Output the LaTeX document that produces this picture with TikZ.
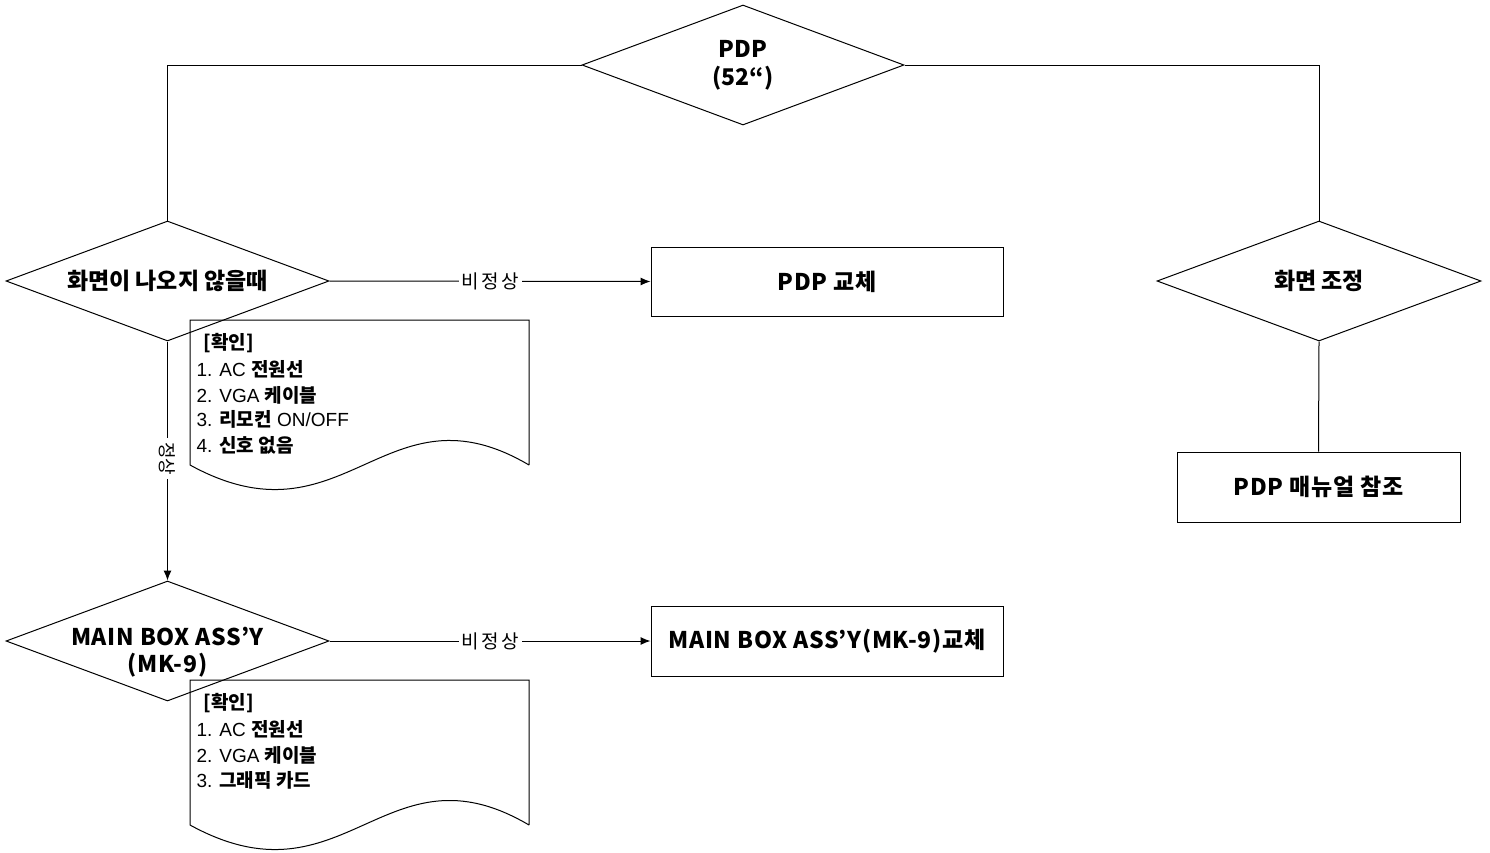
\documentclass[tikz,border=0pt]{standalone}
\usepackage{fontspec}
\setmainfont{Liberation Sans}
\newfontfamily\kr{Noto Sans CJK KR}
\newfontfamily\krsp{Noto Sans CJK KR}[LetterSpace=12]
\newfontfamily\krbox{Noto Sans CJK KR}[LetterSpace=3]
\usetikzlibrary{shapes.geometric,arrows.meta}
\newcommand{\kb}[1]{{\kr\bfseries #1}}
\tikzset{
  every path/.style={line width=1pt},
  dia/.style={diamond, aspect=2.7, draw, line width=1pt, inner sep=0pt, minimum width=323pt, minimum height=120pt,
    font=\kr\bfseries\fontsize{23}{28}\selectfont, align=center},
  dtext/.style={inner sep=0pt, font=\krbox\bfseries\fontsize{23}{27}\selectfont, align=center},
  procbox/.style={rectangle, draw, line width=1pt, inner sep=0pt, minimum width=352pt, minimum height=69pt,
    font=\krbox\bfseries\fontsize{23}{26}\selectfont},
  lbl/.style={fill=white, inner sep=3pt, font=\krsp\fontsize{19}{20}\selectfont},
  vlbl/.style={fill=white, inner sep=4pt, rotate=-90, font=\kr\fontsize{18}{20}\selectfont},
  item/.style={anchor=west, inner sep=0pt, font=\fontsize{19}{22}\selectfont},
  arr/.style={-{Latex[length=10pt,width=8pt]}},
  doc/.style={draw, line width=1pt}
}
\begin{document}
\begin{tikzpicture}[x=1pt,y=-1pt]
\useasboundingbox (0,0) rectangle (1490,852);

% diamonds
\node[dia, minimum width=322pt] (pdp) at (743,65) {PDP\\(52“)};
\node[dia] (d1) at (167.5,281) {화면이 나오지 않을때};
\node[dia] (d2) at (167.5,641) {};
\node[dtext] (d2t) at (167.5,652) {MAIN BOX ASS’Y\\(MK-9)};
\node[dia, minimum width=324pt] (d3) at (1319,281) {화면 조정};

% boxes
\node[procbox] (b1) at (827,281.5) {PDP 교체};
\node[procbox, minimum height=70pt] (b2) at (827,641) {MAIN BOX ASS’Y(MK-9)교체};
\node[procbox, minimum width=283pt, minimum height=70pt] (b3) at (1318.5,487) {PDP 매뉴얼 참조};

% documents
\draw[doc] (529,465) -- (529,320) -- (190,320) -- (190,465)
  .. controls (345,550) and (385,380) .. (529,465);
\draw[doc] (529,825) -- (529,680) -- (190,680) -- (190,825)
  .. controls (345,910) and (385,740) .. (529,825);

\node[item] (c1h) at (203,343) {\kb{[확인]}};
\node[item] (c11) at (196,369) {1. AC \kb{전원선}};
\node[item] (c12) at (196,395) {2. VGA \kb{케이블}};
\node[item] (c13) at (196,419) {3. \kb{리모컨} ON/OFF};
\node[item] (c14) at (196,445) {4. \kb{신호 없음}};

\node[item] (c2h) at (203,703) {\kb{[확인]}};
\node[item] (c21) at (196,729) {1. AC \kb{전원선}};
\node[item] (c22) at (196,755) {2. VGA \kb{케이블}};
\node[item] (c23) at (196,780) {3. \kb{그래픽 카드}};

% connectors
\draw (pdp.west) -| (d1.north);
\draw (pdp.east) -| (d3.north);
\draw[arr] (d1.east) -- node[lbl] {비정상} (b1.west);
\draw[arr] (d2.east) -- node[lbl] {비정상} (b2.west);
\draw[arr] (d1.south) -- node[vlbl, pos=0.49] {정상} (d2.north);
\draw (d3.south) -- (b3.north);
\end{tikzpicture}
\end{document}
